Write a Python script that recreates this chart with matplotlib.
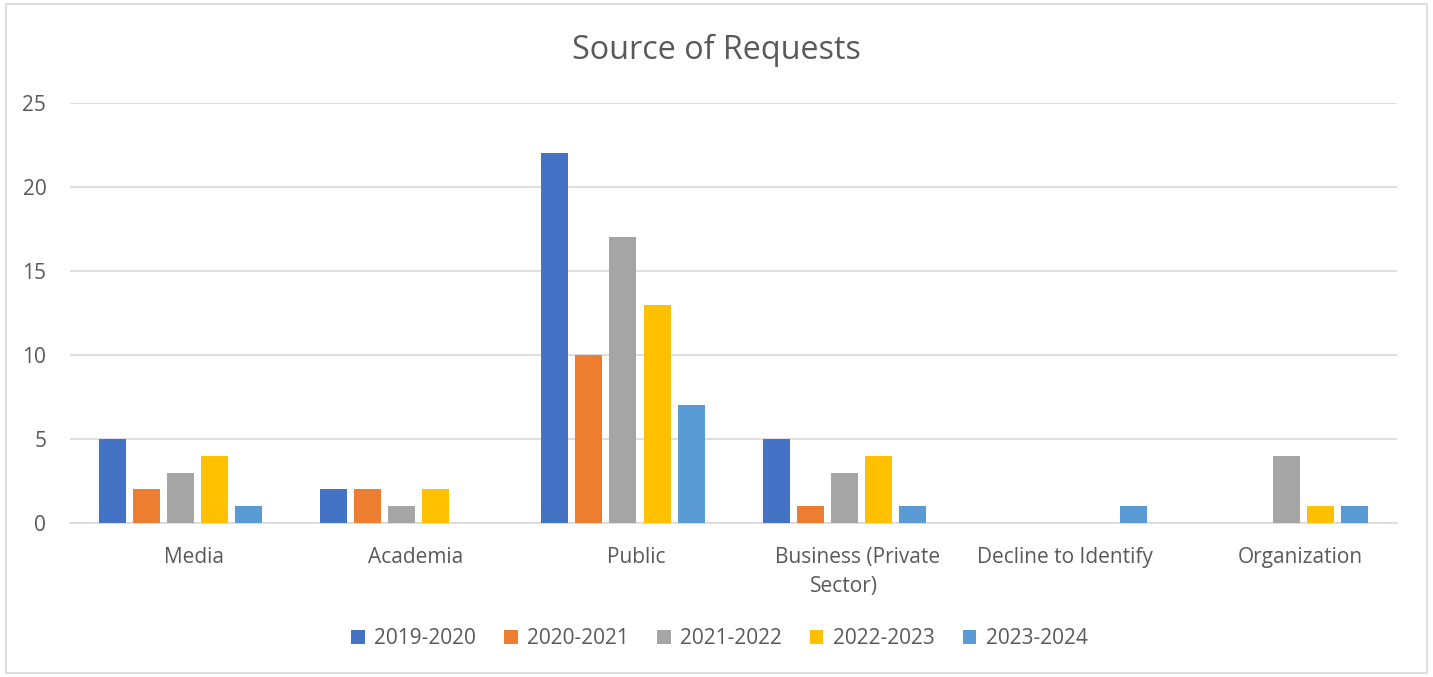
import matplotlib.pyplot as plt
import numpy as np
from matplotlib.patches import Rectangle
from matplotlib.transforms import ScaledTranslation

plt.rcParams['font.family'] = ['Open Sans', 'DejaVu Sans']

categories = ["Media", "Academia", "Public", "Business (Private",
              "Decline to Identify", "Organization"]
years = ["2019-2020", "2020-2021", "2021-2022", "2022-2023", "2023-2024"]
counts = np.array([
    [5, 2, 22, 5, 0, 0],
    [2, 2, 10, 1, 0, 0],
    [3, 1, 17, 3, 0, 4],
    [4, 2, 13, 4, 0, 1],
    [1, 0, 7, 1, 1, 1],
])
colors = ["#4472C4", "#ED7D31", "#A5A5A5", "#FFC000", "#5B9BD5"]

text_color = "#595959"
grid_color = "#D9D9D9"

# horizontal nudge (pixels) for each category label
label_shift_px = [13, 14, 13, 13, 0, 14]

fig = plt.figure(figsize=(14.33, 6.77), dpi=100)
ax = fig.add_axes([0.0488, 0.2275, 0.9262, 0.6205])

x = np.arange(len(categories))
pitch = 0.154
width = 0.122
for i, (yr, col) in enumerate(zip(years, colors)):
    ax.bar(x + (i - 2) * pitch, counts[i], width=width, color=col, label=yr, zorder=3)

ax.set_xlim(-0.5, len(categories) - 0.5)
ax.set_ylim(0, 25)
ax.set_yticks(range(0, 26, 5))
ax.set_xticks(x)
ax.set_xticklabels(categories, fontsize=15, color=text_color)
ax.tick_params(axis='y', labelsize=15, labelcolor=text_color, length=0, pad=17)
ax.tick_params(axis='x', length=0, pad=17)
ax.grid(axis='y', color=grid_color, linewidth=1.2, zorder=0)
for s in ["top", "right", "left"]:
    ax.spines[s].set_visible(False)
ax.spines["bottom"].set_color(grid_color)
ax.spines["bottom"].set_linewidth(1.2)

for lbl, dx in zip(ax.get_xticklabels(), label_shift_px):
    lbl.set_transform(lbl.get_transform() + ScaledTranslation(dx / 100, 0, fig.dpi_scale_trans))

# wrapped second line of the business label
ax.annotate("Sector)", xy=(3, 0), xycoords=('data', 'axes fraction'),
            xytext=(0, -38.5), textcoords='offset points', ha='center', va='top',
            fontsize=15, color=text_color)

fig.text(0.5, 0.925, "Source of Requests", ha='center', va='center',
         fontsize=23.3, color=text_color)

fig.legend(loc='center', bbox_to_anchor=(0.502, 0.057), ncol=5, frameon=False,
           fontsize=15, labelcolor=text_color, handlelength=0.65, handleheight=0.65,
           columnspacing=1.35, handletextpad=0.45)

# light outline around the whole chart
fig.patches.append(Rectangle((0.004, 0.006), 0.992, 0.988, transform=fig.transFigure,
                             fill=False, edgecolor="#D9D9D9", linewidth=1.2))

fig.savefig("out.png", dpi=100)
